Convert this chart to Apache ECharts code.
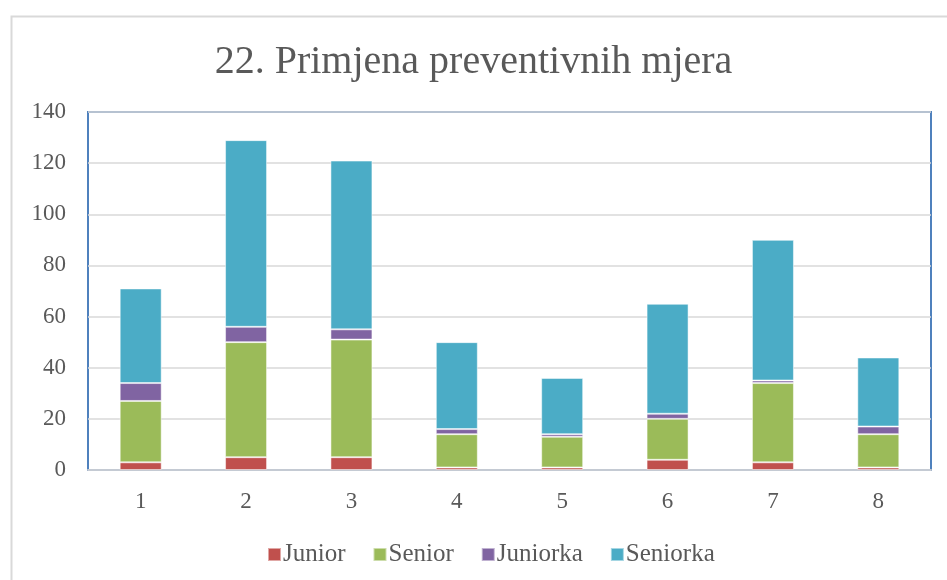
<html>
<head>
<meta charset="UTF-8">
<title>Primjena preventivnih mjera</title>
<script src="https://cdn.jsdelivr.net/npm/echarts@6/dist/echarts.min.js"></script>
<style>
  body { margin: 0; background: #fff; }
</style>
</head>
<body>
<div id="main" style="width: 947px; height: 580px;"></div>
<script type="text/javascript">
var categories = ['1', '2', '3', '4', '5', '6', '7', '8'];
var junior   = [3, 5, 5, 1, 1, 4, 3, 1];
var senior   = [24, 45, 46, 13, 12, 16, 31, 13];
var juniorka = [7, 6, 4, 2, 1, 2, 1, 3];
var seniorka = [37, 73, 66, 34, 22, 43, 55, 27];
var yTicks = { min: 0, max: 140, interval: 20 };

var font = "'Liberation Serif', 'DejaVu Serif', serif";

function barSeries(name, data, color) {
    return {
        name: name,
        type: 'bar',
        stack: 'ukupno',
        data: data,
        barWidth: 42,
        itemStyle: { color: color, borderColor: 'rgba(255,255,255,0.5)', borderWidth: 1 }
    };
}

var myChart = echarts.init(document.getElementById('main'));
var option = {
    animation: false,
    title: {
        text: '22. Primjena preventivnih mjera',
        left: 'center',
        top: 37,
        textStyle: { fontFamily: font, fontSize: 40, fontWeight: 'normal', color: '#595959' }
    },
    legend: {
        bottom: 8,
        left: 262,
        itemWidth: 13,
        itemHeight: 13,
        itemGap: 27,
        icon: 'rect',
        textStyle: { fontFamily: font, fontSize: 25, color: '#595959', padding: [0, 0, 0, -3] },
        data: ['Junior', 'Senior', 'Juniorka', 'Seniorka']
    },
    grid: {
        left: 88,
        right: 16,
        top: 112,
        bottom: 110,
        show: true,
        borderColor: '#4F81BD',
        borderWidth: 2,
        containLabel: false
    },
    xAxis: {
        type: 'category',
        data: categories,
        axisLine: { lineStyle: { color: '#C4CAD3', width: 2 } },
        axisTick: { show: false },
        axisLabel: { fontFamily: font, fontSize: 23, color: '#595959', margin: 20 }
    },
    yAxis: {
        type: 'value',
        min: yTicks.min,
        max: yTicks.max,
        interval: yTicks.interval,
        axisLine: { show: false },
        axisTick: { show: false },
        splitLine: { lineStyle: { color: '#D9D9D9', width: 1.5 } },
        axisLabel: { fontFamily: font, fontSize: 23, color: '#595959', margin: 22 }
    },
    graphic: [{
        type: 'rect',
        left: 9,
        top: 14,
        shape: { width: 960, height: 600 },
        style: { fill: 'none', stroke: '#D9D9D9', lineWidth: 2 },
        silent: true
    }],
    series: [
        barSeries('Junior', junior, '#C0504D'),
        barSeries('Senior', senior, '#9BBB59'),
        barSeries('Juniorka', juniorka, '#8064A2'),
        barSeries('Seniorka', seniorka, '#4BACC6')
    ]
};
myChart.setOption(option);
</script>
</body>
</html>
